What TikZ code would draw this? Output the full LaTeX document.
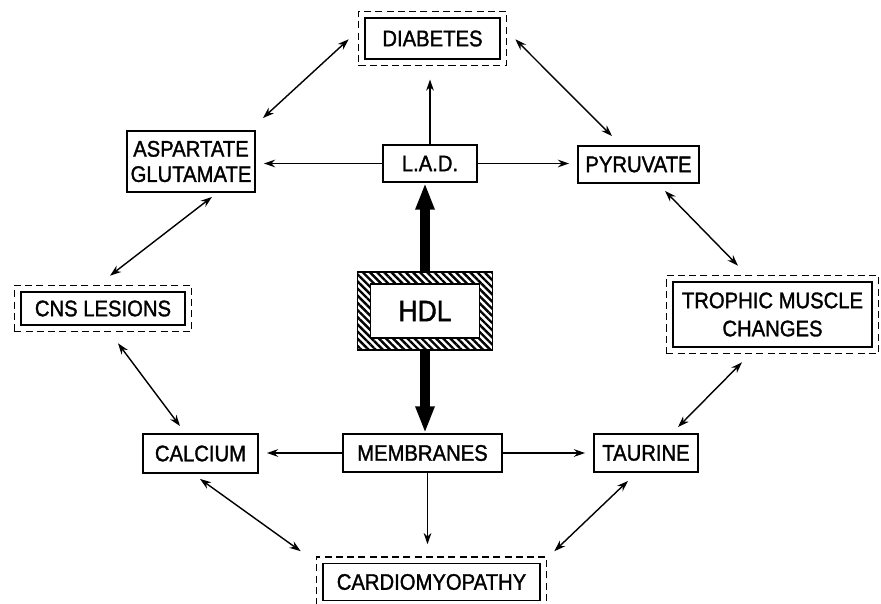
\documentclass[tikz,border=0pt]{standalone}
\usepackage{fontspec}
\setmainfont{Liberation Sans}[FakeStretch=0.9,FakeBold=1.4]
\usetikzlibrary{arrows.meta,calc,fit,patterns.meta}

\begin{document}
\begin{tikzpicture}[x=0.025cm,y=-0.025cm,
block/.style={draw,line width=1.3pt,inner sep=0pt,align=center,font=\fontsize{16}{18}\selectfont},
outerbox/.style={draw,line width=1.1pt,dash pattern=on 5pt off 3pt,inner sep=0.14cm},
hatchframe/.style={draw,line width=1.3pt,pattern={Lines[angle=-45,distance=3.6pt,line width=1.7pt]}},
flow/.style={-{Stealth[length=8pt,width=5.5pt]},line width=1pt,shorten >=0.2cm},
dflow/.style={{Stealth[length=8pt,width=5.5pt]}-{Stealth[length=8pt,width=5.5pt]},line width=1pt},
bigflow/.style={-{Triangle[length=19pt,width=12.5pt]},line width=7.8pt}]
\useasboundingbox (0,0) rectangle (881,604);
% boxes
\node[block,minimum width=3.375cm,minimum height=1.025cm] (diab) at (432.5,38.5) {DIABETES};
\node[block,minimum width=3.2cm,minimum height=1.525cm] (asp) at (191,161.5) {ASPARTATE\\GLUTAMATE};
\node[block,minimum width=2.35cm,minimum height=0.925cm] (lad) at (430,163.5) {L.A.D.};
\node[block,minimum width=3.025cm,minimum height=0.925cm] (pyr) at (638.5,164.5) {PYRUVATE};
\node[block,minimum width=4.1cm,minimum height=0.825cm] (cns) at (103,308.5) {CNS LESIONS};
\node[block,minimum width=4.975cm,minimum height=1.625cm] (troph) at (772.5,314.5) {TROPHIC MUSCLE\\[2pt]CHANGES};
\node[hatchframe,minimum width=3.375cm,minimum height=1.95cm] (hdlframe) at (425,311) {};
\node[block,fill=white,minimum width=2.725cm,minimum height=1.35cm,font=\fontsize{21}{24}\selectfont] (hdl) at (425,311) {HDL};
\node[block,minimum width=2.875cm,minimum height=0.975cm] (calc) at (200.5,453.5) {CALCIUM};
\node[block,minimum width=3.975cm,minimum height=0.95cm] (mem) at (422.5,453) {MEMBRANES};
\node[block,minimum width=2.6cm,minimum height=0.95cm] (taur) at (646,453) {TAURINE};
\node[block,minimum width=5.425cm,minimum height=0.925cm] (cardio) at (431.5,582) {CARDIOMYOPATHY};
% dashed frames
\node[outerbox,fit=(diab)] (diabo) {};
\node[outerbox,fit=(cns)] (cnso) {};
\node[outerbox,fit=(troph)] (tropho) {};
\node[outerbox,fit=(cardio)] (cardioo) {};
% HDL arrows
\draw[bigflow] (hdlframe.north) -- (hdlframe.north |- lad.south);
\draw[bigflow] (hdlframe.south) -- (hdlframe.south |- mem.north);
% straight arrows
\draw[flow] (lad.west) -- (lad.west -| asp.east);
\draw[flow] (lad.east) -- (lad.east -| pyr.west);
\draw[flow,shorten >=0.33cm] (lad.north) -- (lad.north |- diabo.south);
\draw[flow] (mem.west) -- (mem.west -| calc.east);
\draw[flow] (mem.east) -- (mem.east -| taur.west);
\draw[flow,shorten >=0.3cm] ($(mem.south)+(5,0)$) -- ($(mem.south |- cardioo.north)+(5,0)$);
% ring of double arrows
\draw[dflow] ($(asp.north east)+(7,-12)$) -- ($(diabo.south west)+(-9,-27)$);
\draw[dflow] ($(diabo.south east)+(8,-27)$) -- ($(pyr.north)+(-26.5,-9)$);
\draw[dflow] ($(pyr.south)+(26.5,7)$) -- ($(tropho.north)+(-34.5,-9)$);
\draw[dflow] ($(tropho.south)+(-30.5,8)$) -- ($(taur.north)+(32,-6)$);
\draw[dflow] ($(taur.south)+(-18,8)$) -- ($(cardioo.north east)+(7,-5)$);
\draw[dflow] ($(calc.south)+(-0.5,5)$) -- ($(cardioo.north west)+(-15,-5)$);
\draw[dflow] ($(cnso.south)+(15,11)$) -- ($(calc.north)+(-20.5,-7)$);
\draw[dflow] ($(asp.south)+(21,4)$) -- ($(cnso.north)+(7,-9)$);
\end{tikzpicture}
\end{document}
